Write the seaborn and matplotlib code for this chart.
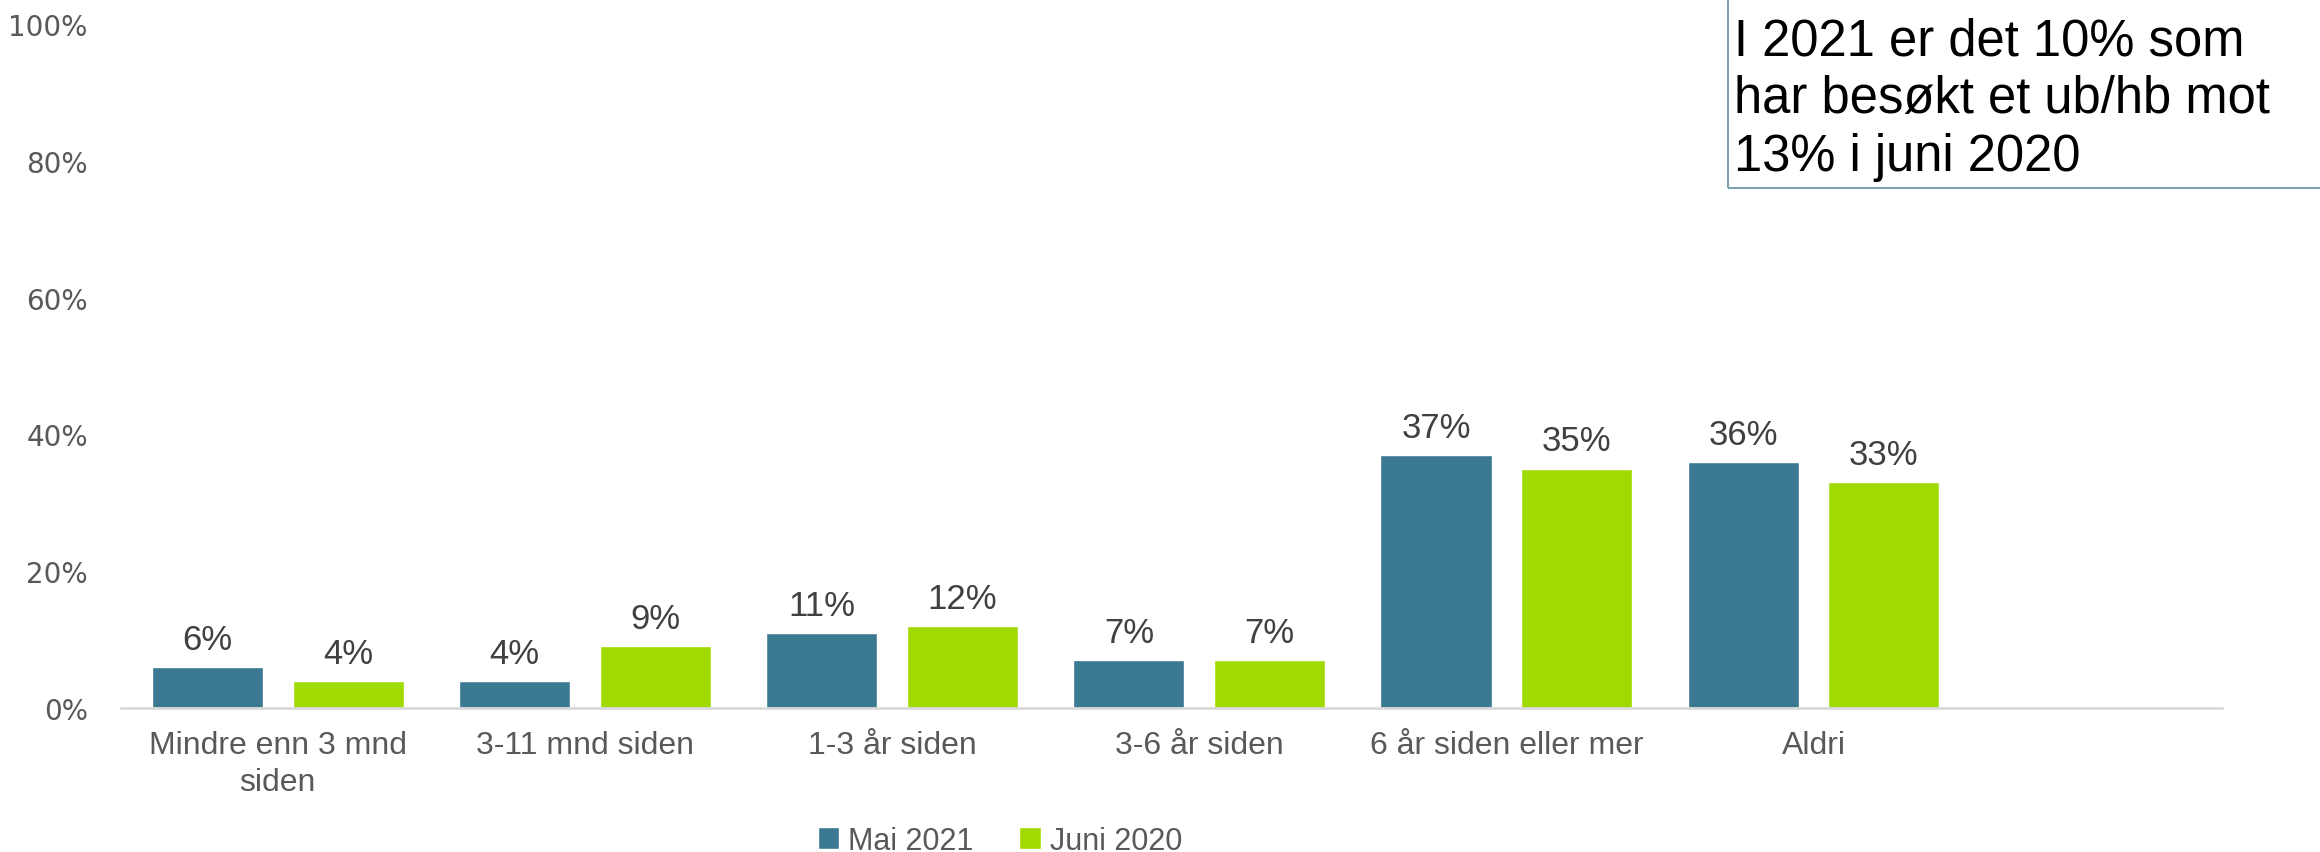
import pandas as pd
import matplotlib.pyplot as plt
import seaborn as sns

categories = ['Mindre enn 3 mnd\nsiden', '3-11 mnd siden', '1-3 år siden',
              '3-6 år siden', '6 år siden eller mer', 'Aldri']
mai_2021 = [6, 4, 11, 7, 37, 36]
juni_2020 = [4, 9, 12, 7, 35, 33]
series = ['Mai 2021', 'Juni 2020']
y_ticks = [0, 20, 40, 60, 80, 100]

df = pd.DataFrame({
    'kategori': categories * 2,
    'verdi': mai_2021 + juni_2020,
    'serie': [series[0]] * len(categories) + [series[1]] * len(categories),
})

sns.set_style('white')
plt.rcParams['font.family'] = ['Liberation Sans', 'DejaVu Sans']

fig = plt.figure(figsize=(23.2, 8.53), dpi=100)
ax = fig.add_axes([0.0522, 0.1688, 0.9056, 0.8019])

sns.barplot(data=df, x='kategori', y='verdi', hue='serie',
            palette=['#3B7891', '#A0DA00'], width=0.916, gap=0.21,
            saturation=1, ax=ax, legend=True)

for cont in ax.containers:
    ax.bar_label(cont, labels=[f'{int(v)}%' for v in cont.datavalues],
                 padding=8, fontsize=25, color='#404040')

ax.set_ylim(0, 100)
ax.set_xlim(-0.51, 6.33)
ax.set_yticks(y_ticks)
ax.set_yticklabels([f'{t}%' for t in y_ticks], fontsize=20, color='#595959',
                   family='DejaVu Sans')
ax.tick_params(axis='x', labelsize=23, labelcolor='#595959', length=0, pad=16)
ax.tick_params(axis='y', length=0, pad=24)
for lbl in ax.get_xticklabels():
    lbl.set_linespacing(1.3)
ax.set_xlabel('')
ax.set_ylabel('')
for s in ['top', 'right', 'left']:
    ax.spines[s].set_visible(False)
ax.spines['bottom'].set_color('#d9d9d9')
ax.spines['bottom'].set_linewidth(2)

handles, labels = ax.get_legend_handles_labels()
ax.get_legend().remove()
fig.legend(handles, labels, loc='lower center', bbox_to_anchor=(0.431, -0.008),
           ncol=2, frameon=False, fontsize=22, handlelength=0.7,
           handleheight=0.7, handletextpad=0.3, columnspacing=1.5,
           borderpad=0.1, borderaxespad=0, labelcolor='#595959')

fig.text(1734 / 2320, 1 - 18 / 853,
         'I 2021 er det 10% som\nhar besøkt et ub/hb mot\n13% i juni 2020',
         ha='left', va='top', fontsize=36.5, color='black', linespacing=1.22)
box = plt.Rectangle((1728 / 2320, 1 - 189 / 853), 0.3, 0.3,
                    transform=fig.transFigure, fill=False,
                    edgecolor='#7FA0B0', linewidth=1.5)
fig.add_artist(box)

fig.savefig('out.png', dpi=100)
